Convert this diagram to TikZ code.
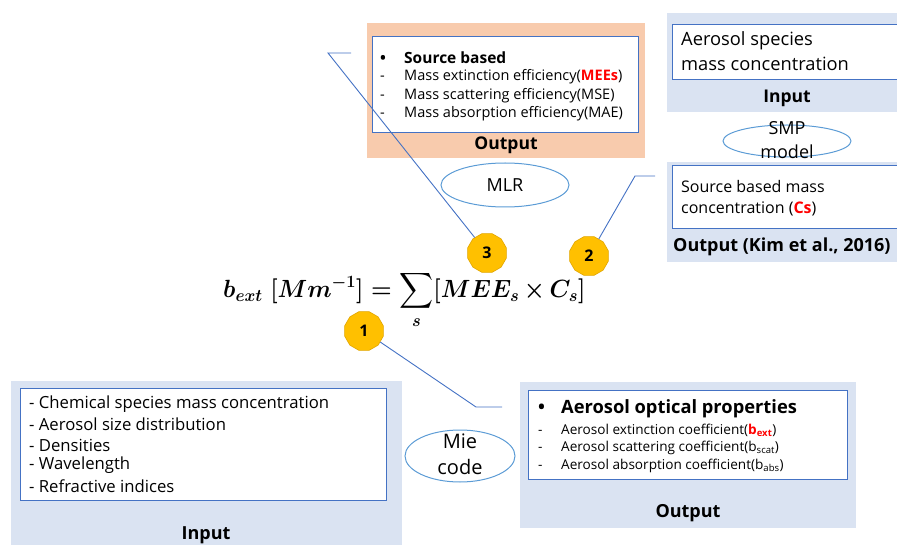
\documentclass[tikz,border=0pt]{standalone}
\usepackage{amsmath}
\usepackage{graphicx}
\usepackage{fontspec}
\setmainfont{Open Sans}
\usetikzlibrary{shapes.geometric}
\definecolor{boxblue}{RGB}{218,227,242}
\definecolor{salmon}{RGB}{248,203,173}
\definecolor{edgeblue}{RGB}{68,114,196}
\definecolor{ellblue}{RGB}{91,155,213}
\definecolor{gold}{RGB}{255,192,0}
\definecolor{goldedge}{RGB}{225,165,0}
\definecolor{redtxt}{RGB}{255,0,0}
\newcommand{\fs}[2]{\fontsize{#1}{#2}\selectfont}
\newcommand{\myeqn}{\scalebox{0.95}[1]{\fs{23}{28}\boldmath$\displaystyle b_{ext}\;[Mm^{-1}]=\sum_{s}[MEE_s\mkern-1mu\times\mkern-1mu C_s]$}}
\begin{document}
\begin{tikzpicture}[x=1pt,y=-1pt,
  panel/.style={fill=boxblue,draw=none},
  opanel/.style={fill=salmon,draw=none},
  innerbox/.style={fill=white,draw=edgeblue,line width=0.9pt},
  ellbox/.style={ellipse,draw=ellblue,line width=1pt,inner sep=0pt},
  txt/.style={inner sep=0pt,anchor=west},
  ctxt/.style={inner sep=0pt,align=center},
  num/.style={regular polygon,regular polygon sides=12,fill=gold,draw=goldedge,line width=0.6pt,
              minimum size=40pt,inner sep=0pt,font=\fs{16}{18}\bfseries},
  conn/.style={draw=edgeblue,line width=0.9pt}]
\useasboundingbox (0,0) rectangle (897,545);
\clip (0,0) rectangle (897,545);

% ---------- top centre (salmon) ----------
\fill[opanel] (367,23) rectangle (645,158);
\draw[innerbox] (372,36) rectangle (638,132);
\node[txt] (tb1) at (380,58) {\fs{15.5}{18}\bfseries\makebox[24pt][l]{•}Source based};
\node[txt] (tb2) at (380,77) {\fs{14.5}{16}\makebox[24pt][l]{-}Mass extinction efficiency(\textcolor{redtxt}{\bfseries MEEs})};
\node[txt] (tb3) at (380,96) {\fs{14.5}{16}\makebox[24pt][l]{-}Mass scattering efficiency(MSE)};
\node[txt] (tb4) at (380,114) {\fs{14.5}{16}\makebox[24pt][l]{-}Mass absorption efficiency(MAE)};
\node[ctxt] (tbo) at (506,145) {\fs{17.5}{20}\bfseries Output};

% ---------- MLR ----------
\node[ellbox,minimum width=128pt,minimum height=44pt] (mlr) at (505,185) {};
\node[ctxt] (mlrt) at (505,185) {\fs{18}{20}MLR};

% ---------- right top ----------
\fill[panel] (667,13) rectangle (912,112);
\draw[innerbox] (672,24) rectangle (912,79);
\node[txt] (rt1) at (681,41) {\fs{18.3}{20}Aerosol species};
\node[txt] (rt2) at (681,64) {\fs{18.3}{20}mass concentration};
\node[ctxt] (rti) at (787,98) {\fs{17.5}{20}\bfseries Input};

\node[ellbox,minimum width=128pt,minimum height=32pt] (smp) at (787,141) {};
\node[ctxt,font=\fs{18}{24}] (smpt) at (787,140) {SMP\\model};

\fill[panel] (667,162) rectangle (912,262);
\draw[innerbox] (672,165) rectangle (912,228);
\node[txt] (rb1) at (681,187) {\fs{16}{18}Source based mass};
\node[txt] (rb2) at (681,209) {\fs{16}{18}concentration (\textcolor{redtxt}{\bfseries Cs})};
\node[txt] (rbo) at (673,247) {\fs{18}{19}\bfseries Output (Kim et al., 2016)};

% ---------- equation ----------
\node[inner sep=0pt,anchor=west] (eq) at (223,300) {\myeqn};

% ---------- numbered markers ----------
\node[num] (c3) at (487,253) {3};
\node[num] (c2) at (589,256) {2};
\node[num] (c1) at (364,331) {1};

\coordinate (k3a) at (328,53);
\coordinate (k3b) at (351,53);
\coordinate (k2a) at (635,176);
\coordinate (k2b) at (655,176);
\coordinate (k1a) at (476,407);
\coordinate (k1b) at (502,407);
\draw[conn] (c3) -- (k3a) -- (k3b);
\draw[conn] (c2) -- (k2a) -- (k2b);
\draw[conn] (c1) -- (k1a) -- (k1b);

% ---------- bottom left ----------
\fill[panel] (11,381) rectangle (402,560);
\draw[innerbox] (20,388) rectangle (386,500);
\node[txt] (bl1) at (29,404) {\fs{16.7}{19}- Chemical species mass concentration};
\node[txt] (bl2) at (29,424) {\fs{16.7}{19}- Aerosol size distribution};
\node[txt] (bl3) at (29,445) {\fs{16.7}{19}- Densities};
\node[txt] (bl4) at (29,465) {\fs{16.7}{19}- Wavelength};
\node[txt] (bl5) at (29,486) {\fs{16.7}{19}- Refractive indices};
\node[ctxt] (blo) at (206,535) {\fs{18}{21}\bfseries Input};

% ---------- Mie code ----------
\node[ellbox,minimum width=110pt,minimum height=52pt] (mie) at (460,456) {};
\node[ctxt,font=\fs{20}{26}] (miet) at (460,454) {Mie\\code};

% ---------- bottom right ----------
\fill[panel] (520,382) rectangle (856,528);
\draw[innerbox] (528,390) rectangle (847,479);
\node[txt] (br1) at (538,409) {\fs{18.3}{21}\bfseries\makebox[23pt][l]{•}Aerosol optical properties};
\node[txt] (br2) at (538,430) {\fs{13.6}{16}\makebox[23pt][l]{-}Aerosol extinction coefficient(\textcolor{redtxt}{\bfseries b\textsubscript{ext}})};
\node[txt] (br3) at (538,448) {\fs{13.6}{16}\makebox[23pt][l]{-}Aerosol scattering coefficient(b\textsubscript{scat})};
\node[txt] (br4) at (538,466) {\fs{13.6}{16}\makebox[23pt][l]{-}Aerosol absorption coefficient(b\textsubscript{abs})};
\node[ctxt] (bro) at (688,513) {\fs{18}{21}\bfseries Output};
\end{tikzpicture}
\end{document}
